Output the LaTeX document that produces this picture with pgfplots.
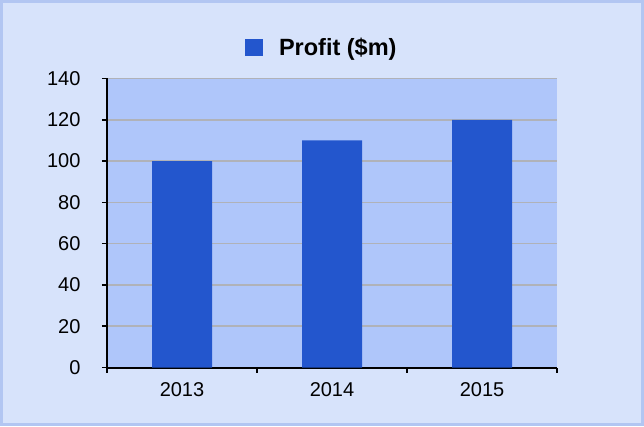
\documentclass[border=0pt]{standalone}
\usepackage{pgfplots}
\pgfplotsset{compat=1.18}
\usepackage{fontspec}
\setmainfont{Liberation Sans}

\definecolor{outerbg}{HTML}{D7E3FB}
\definecolor{outerborder}{HTML}{B2C6F2}
\definecolor{plotbg}{HTML}{AFC6FA}
\definecolor{barblue}{HTML}{2356CD}
\definecolor{gridgray}{HTML}{B0B2B8}

\begin{document}
\begin{tikzpicture}[x=1pt,y=1pt]
% chart background and frame
\fill[outerbg] (0,0) rectangle (644,426);
\draw[outerborder,line width=3pt] (1.5,1.5) rectangle (642.5,424.5);
\useasboundingbox (0,0) rectangle (644,426);

\begin{axis}[
at = {(107pt,58.5pt)},
anchor = south west,
scale only axis,
width = 450pt,
height = 289pt,
xmin = 0.5,
xmax = 3.5,
ymin = 0,
ymax = 140,
ybar,
bar width = 60pt,
axis background/.style = {fill=plotbg},
axis x line* = bottom,
axis y line* = left,
axis line style = {black,line width=2pt},
tick align = outside,
major tick length = 5pt,
minor tick length = 5pt,
tick style = {black,line width=1.5pt},
major x tick style = {draw=none},
xtick = {1,2,3},
xticklabels = {2013,2014,2015},
minor xtick = {0.5,1.5,2.5,3.5},
ytick = {0,20,40,60,80,100,120,140},
ymajorgrids = true,
grid style = {gridgray,line width=1.7pt},
ticklabel style = {font=\fontsize{20}{24}\selectfont},
/pgf/number format/assume math mode=true,
xticklabel style = {yshift=-6pt},
yticklabel style = {xshift=-18pt},
legend style = {
  draw=none, fill=none, inner sep=0pt, outer sep=0pt,
  at={(0.3067,1.107)}, anchor=west,
  font=\fontsize{23.5}{28}\selectfont\bfseries,
  nodes={inner sep=0pt},
  column sep=16pt,
  legend columns=2,
},
legend image code/.code = {
  \fill[barblue] (0pt,-8.5pt) rectangle (18pt,8.5pt);
},
]
\addplot [fill=barblue, draw=none] coordinates {
(1,100)
(2,110)
(3,120)
};
\addlegendentry{Profit (\$m)}
\end{axis}
\end{tikzpicture}
\end{document}
